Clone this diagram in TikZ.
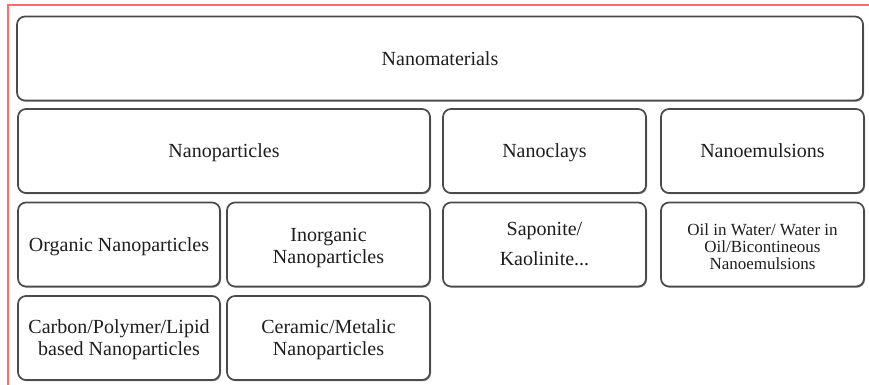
\documentclass[tikz,border=0pt]{standalone}
\usepackage{fontspec}
\setmainfont{Liberation Serif}
\usetikzlibrary{shadows}
\definecolor{frame}{HTML}{FF6B6B}
\definecolor{boxline}{HTML}{4A4A4A}
\definecolor{txt}{HTML}{1E1E1E}
\newcommand\myrise[1]{\rule{0pt}{#1}}
\tikzset{
  box/.style={draw=boxline, line width=1.7pt, rounded corners=8pt, fill=white,
    minimum height=84pt, inner sep=0pt, align=center, text=txt,
    font=\fontsize{20}{22}\selectfont,
    drop shadow={shadow xshift=1pt, shadow yshift=-1.2pt, opacity=0.45, fill=black}},
  single/.style={text height=13.5pt, text depth=0pt},
  redbar/.style={fill=frame, draw=none},
}
\begin{document}
\begin{tikzpicture}[x=1pt,y=-1pt]
\useasboundingbox (0,0) rectangle (869,385);
\fill[frame] (6.5,4) rectangle (8.8,385);
\fill[frame] (6.5,4) rectangle (869,6);
\node[box, single, minimum width=846pt] (nm) at (440,58.5) {Nanomaterials};
\node[box, single, minimum width=412pt] (np) at (224,151) {Nanoparticles};
\node[box, single, minimum width=203pt] (nc) at (544.5,151) {Nanoclays};
\node[box, single, minimum width=203pt] (ne) at (762.5,151) {Nanoemulsions};
\node[box, single, minimum width=202pt] (org) at (119,244.5) {Organic Nanoparticles};
\node[box, minimum width=203pt] (inorg) at (328.5,244.5) {\myrise{20pt}Inorganic\\Nanoparticles};
\node[box, minimum width=203pt] (sap) at (544.5,244.5) {Saponite/\\[8pt]Kaolinite...};
\node[box, minimum width=203pt, font=\fontsize{17}{17}\selectfont] (oil) at (762.5,244.5) {\myrise{17pt}Oil in Water/ Water in\\Oil/Bicontineous\\Nanoemulsions};
\node[box, minimum width=202pt] (carb) at (119,338) {\myrise{17pt}Carbon/Polymer/Lipid\\based Nanoparticles};
\node[box, minimum width=203pt] (cer) at (328.5,338) {\myrise{17pt}Ceramic/Metalic\\Nanoparticles};
\end{tikzpicture}
\end{document}
